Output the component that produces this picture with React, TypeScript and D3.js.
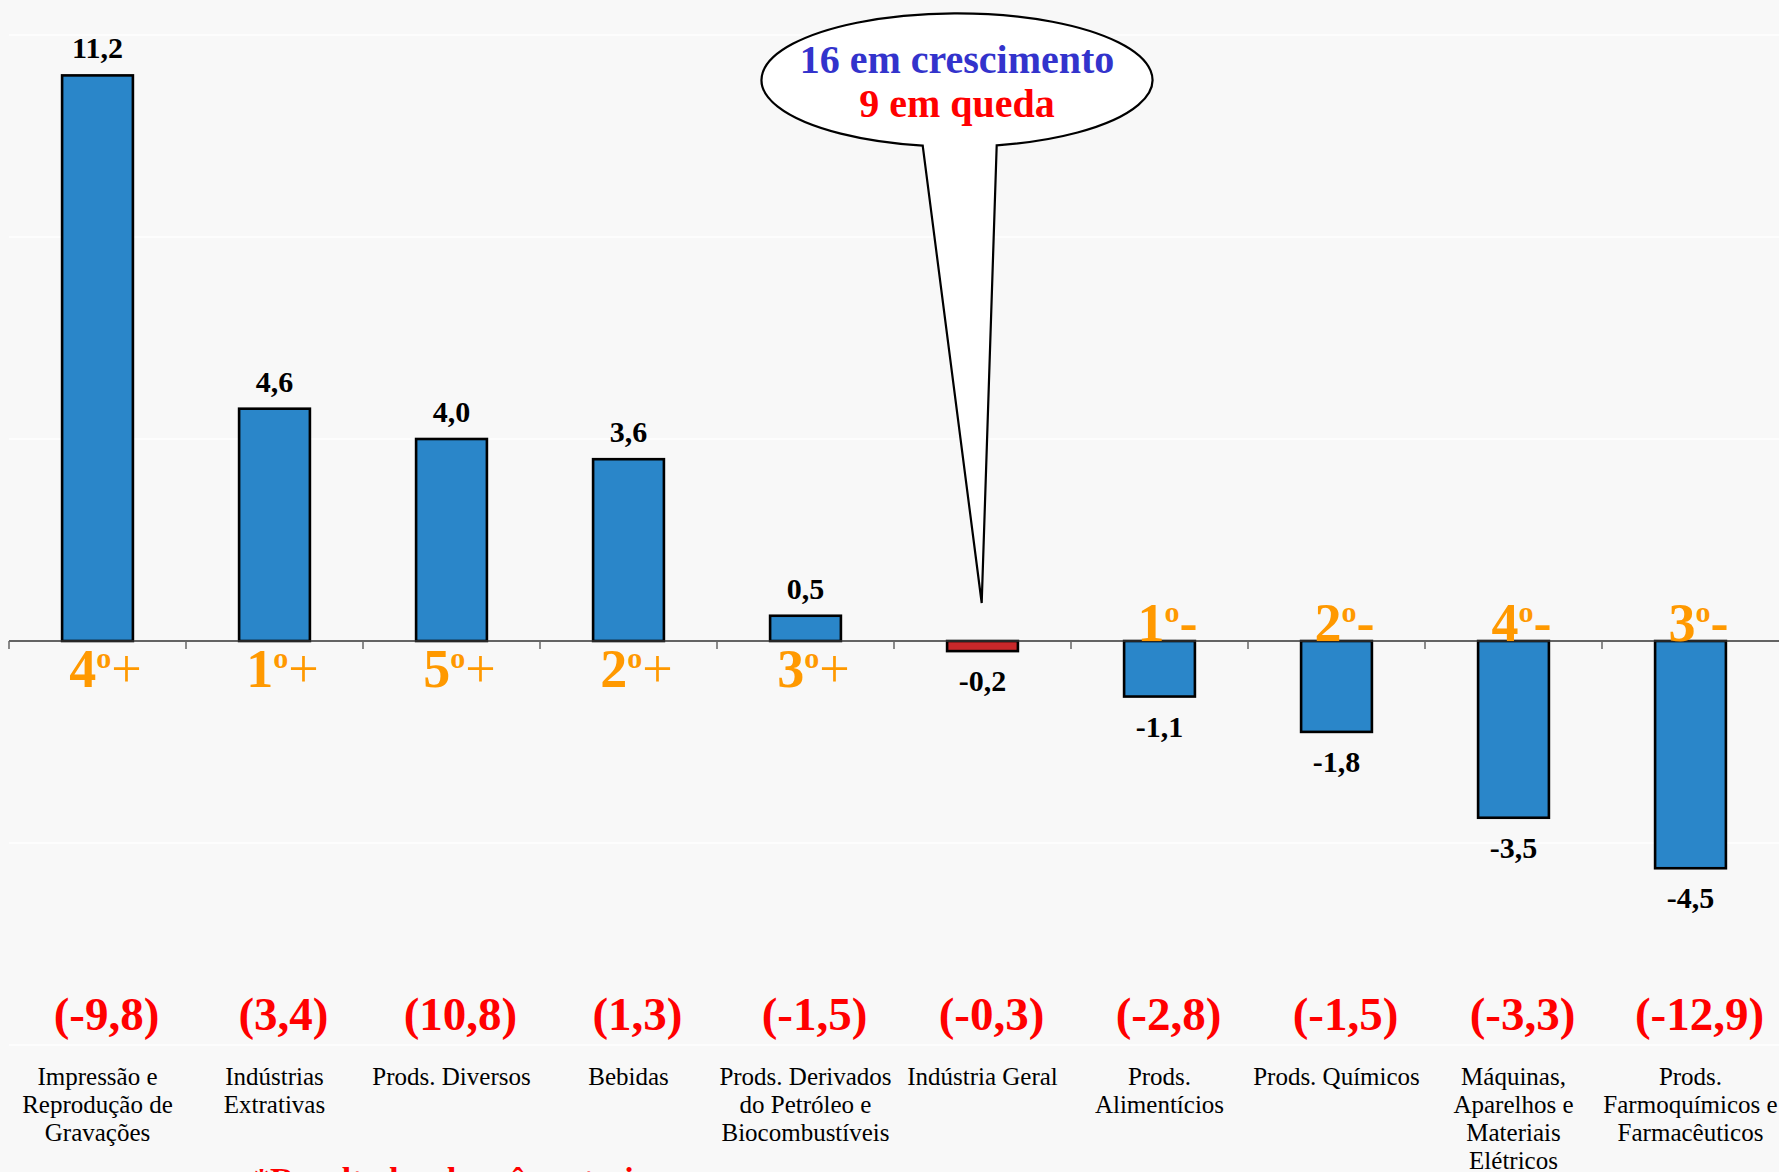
import React from "react";
import * as d3 from "d3";

const categories: string[][] = [
  ["Impressão e", "Reprodução de", "Gravações"],
  ["Indústrias", "Extrativas"],
  ["Prods. Diversos"],
  ["Bebidas"],
  ["Prods. Derivados", "do Petróleo e", "Biocombustíveis"],
  ["Indústria Geral"],
  ["Prods.", "Alimentícios"],
  ["Prods. Químicos"],
  ["Máquinas,", "Aparelhos e", "Materiais", "Elétricos"],
  ["Prods.", "Farmoquímicos e", "Farmacêuticos"],
];
const values: number[] = [11.2, 4.6, 4.0, 3.6, 0.5, -0.2, -1.1, -1.8, -3.5, -4.5];
const previous: number[] = [-9.8, 3.4, 10.8, 1.3, -1.5, -0.3, -2.8, -1.5, -3.3, -12.9];
const rankNum: string[] = ["4", "1", "5", "2", "3", "", "1", "2", "4", "3"];
const rankSign: string[] = ["+", "+", "+", "+", "+", "", "-", "-", "-", "-"];
const yTicks: number[] = [-8, -4, 0, 4, 8, 12];
const bubbleLine1 = "16 em crescimento";
const bubbleLine2 = "9 em queda";
const footnote = "*Resultados do mês anterior";
const highlightIndex = 5;

const W = 1779;
const H = 1172;
const FONT = "'Liberation Serif', 'Times New Roman', serif";

const fmt = (v: number) => (v < 0 ? "-" : "") + Math.abs(v).toFixed(1).replace(".", ",");

export default function App() {
  const ids = categories.map((_, i) => String(i));
  const xb = d3.scaleBand<string>().domain(ids).range([9, 1779]).padding(0);
  const xBar = d3.scaleBand<string>().domain(ids).range([9, 1779]).paddingInner(0.6).paddingOuter(0.3);
  const y = d3.scaleLinear().domain([-8, 12]).range([1045, 35]);
  const y0 = y(0);

  // bubble geometry
  const cx = 957, cy = 80, rx = 195.5, ry = 66.7;
  const bxL = 922.7, bxR = 996.7;
  const eY = (x: number) => cy + ry * Math.sqrt(1 - ((x - cx) / rx) ** 2);
  const tipX = 981.7, tipY = 603;
  const bubblePath = `M ${bxL} ${eY(bxL)} A ${rx} ${ry} 0 1 1 ${bxR} ${eY(bxR)} L ${tipX} ${tipY} Z`;

  return (
    <svg
      width={W}
      height={H}
      style={{ position: "absolute", left: 0, top: 0, background: "#f8f8f8" }}
      fontFamily={FONT}
    >
      <rect x={0} y={0} width={W} height={H} fill="#f8f8f8" />
      {yTicks.filter((t) => t !== 0).map((t) => (
        <line key={t} x1={9} x2={W} y1={y(t)} y2={y(t)} stroke="#ffffff" strokeWidth={1.5} />
      ))}

      {/* bars */}
      {values.map((v, i) => {
        const id = String(i);
        const top = Math.min(y(v), y0);
        const h = Math.abs(y(v) - y0);
        return (
          <rect
            key={i}
            x={xBar(id)}
            y={top}
            width={xBar.bandwidth()}
            height={h}
            fill={i === highlightIndex ? "#c8282a" : "#2a86c9"}
            stroke="#000"
            strokeWidth={2.6}
          />
        );
      })}

      {/* axis */}
      <line x1={9} x2={W} y1={y0} y2={y0} stroke="#333" strokeWidth={1.5} />
      {ids.map((id) => (
        <line key={id} x1={xb(id)!} x2={xb(id)!} y1={y0} y2={y0 + 8} stroke="#666" strokeWidth={1.5} />
      ))}

      {/* value labels */}
      {values.map((v, i) => {
        const c = xb(String(i))! + xb.bandwidth() / 2;
        return (
          <text
            key={i}
            x={c}
            y={v >= 0 ? y(v) - 17 : y(v) + 40}
            textAnchor="middle"
            fontSize={30}
            fontWeight="bold"
            fill="#000"
          >
            {fmt(v)}
          </text>
        );
      })}

      {/* rank labels */}
      {rankNum.map((r, i) => {
        if (!r) return null;
        const c = xb(String(i))! + xb.bandwidth() / 2 + 8;
        const pos = rankSign[i] === "+";
        return (
          <text
            key={i}
            x={c}
            y={pos ? y0 + 46 : y0}
            textAnchor="middle"
            fontSize={54}
            fontWeight="bold"
            fill="#ff9900"
          >
            <tspan>{r}</tspan>
            <tspan fontSize={30} dy={-19}>o</tspan>
            <tspan dy={19} fontWeight={pos ? "normal" : "bold"}>{rankSign[i]}</tspan>
          </text>
        );
      })}

      {/* previous results */}
      {previous.map((v, i) => {
        const c = xb(String(i))! + xb.bandwidth() / 2 + 9;
        return (
          <text key={i} x={c} y={1030} textAnchor="middle" fontSize={47} fontWeight="bold" fill="#ff0000">
            {"(" + fmt(v) + ")"}
          </text>
        );
      })}

      {/* category labels */}
      {categories.map((lines, i) => {
        const c = xb(String(i))! + xb.bandwidth() / 2;
        return (
          <text key={i} x={c} y={1085} textAnchor="middle" fontSize={25} fill="#000">
            {lines.map((ln, j) => (
              <tspan key={j} x={c} dy={j === 0 ? 0 : 28}>
                {ln}
              </tspan>
            ))}
          </text>
        );
      })}

      {/* bubble */}
      <path d={bubblePath} fill="#ffffff" stroke="#000" strokeWidth={2.2} strokeLinejoin="miter" />
      <text x={cx} y={73} textAnchor="middle" fontSize={40} fontWeight="bold" fill="#3333cc">
        {bubbleLine1}
      </text>
      <text x={cx} y={117} textAnchor="middle" fontSize={40} fontWeight="bold" fill="#ff0000">
        {bubbleLine2}
      </text>

      {/* footnote */}
      <text x={253} y={1191} fontSize={34} fontWeight="bold" fill="#ff0000">
        {footnote}
      </text>
    </svg>
  );
}
